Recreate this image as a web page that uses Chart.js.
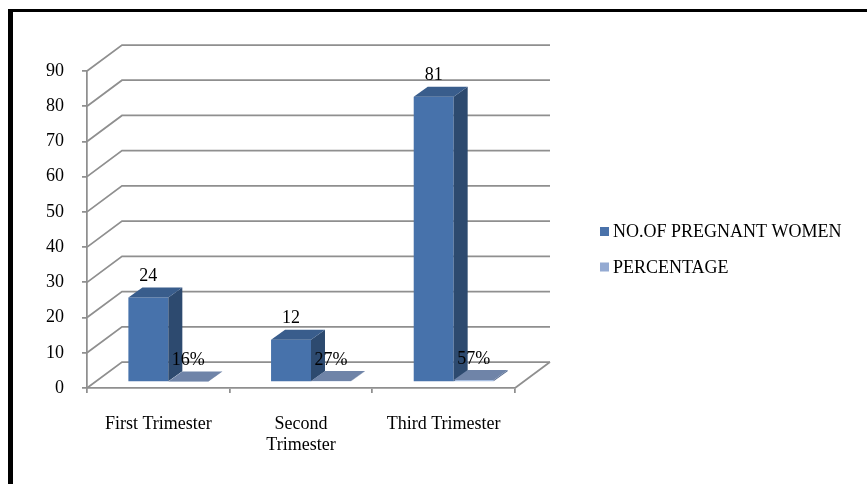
<!DOCTYPE html>
<html>
<head>
<meta charset="utf-8">
<script src="https://cdn.jsdelivr.net/npm/chart.js@4/dist/chart.umd.min.js"></script>
<style>
  html, body { margin: 0; padding: 0; background: #ffffff; }
  #wrap { width: 867px; height: 484px; position: relative; }
</style>
</head>
<body>
<div id="wrap"><canvas id="chart" width="867" height="484"></canvas></div>
<script>
// Categories (second label wraps onto two lines)
const categories = ['First Trimester', ['Second', 'Trimester'], 'Third Trimester'];
const seriesNames = ['NO.OF PREGNANT WOMEN', 'PERCENTAGE'];
const pregnantWomen = [24, 12, 81];
const percentage = [0.16, 0.27, 0.57];
const yMin = 0;
const yMax = 90;
const yStep = 10;

// Face colours for the two series: front, side, top, legend swatch
const faces = [
  { front: '#4772ab', side: '#2d4a6f', top: '#395d8c', key: '#4a72aa' },
  { front: '#a6bde0', side: '#5a6e92', top: '#6f84a8', key: '#94aad2' }
];
const gridColor = '#8f8f8f';
const fontFamily = "'Liberation Serif', 'Times New Roman', serif";

// 3D geometry: depth of the walls, offset of the bar plane and depth of the bars
const WALL = { dx: 35, dy: -26 };
const PLANE = { dx: 10, dy: -6 };
const BOX = { dx: 14, dy: -10 };

Chart.defaults.font.family = fontFamily;
Chart.defaults.font.size = 18;
Chart.defaults.color = '#000000';

const frame = {
  id: 'frame',
  beforeDraw(chart) {
    const ctx = chart.ctx;
    ctx.save();
    ctx.fillStyle = '#000000';
    ctx.fillRect(9, 9, chart.width - 9, 3);
    ctx.fillRect(8, 9, 5, chart.height - 9);
    ctx.restore();
  }
};

const walls = {
  id: 'walls',
  beforeDatasetsDraw(chart) {
    const { ctx, chartArea: a, scales: { y } } = chart;
    ctx.save();
    ctx.strokeStyle = gridColor;
    ctx.lineWidth = 1.75;
    ctx.lineCap = 'butt';
    for (let v = yMin; v <= yMax; v += yStep) {
      const py = y.getPixelForValue(v);
      ctx.beginPath();
      ctx.moveTo(a.left, py);
      ctx.lineTo(a.left + WALL.dx, py + WALL.dy);
      ctx.lineTo(a.right + WALL.dx, py + WALL.dy);
      ctx.stroke();
    }
    // right edge of the floor
    const p0 = y.getPixelForValue(yMin);
    ctx.beginPath();
    ctx.moveTo(a.right, p0);
    ctx.lineTo(a.right + WALL.dx, p0 + WALL.dy);
    ctx.stroke();
    ctx.restore();
    // front faces of the bars are drawn by Chart.js in the bar plane
    ctx.save();
    ctx.translate(PLANE.dx, PLANE.dy);
  },
  afterDatasetsDraw(chart) {
    const ctx = chart.ctx;
    ctx.restore();
    ctx.save();
    chart.data.datasets.forEach((ds, i) => {
      const meta = chart.getDatasetMeta(i);
      const f = faces[i];
      meta.data.forEach((el) => {
        const p = el.getProps(['x', 'y', 'base', 'width'], true);
        const l = p.x - p.width / 2 + PLANE.dx;
        const r = p.x + p.width / 2 + PLANE.dx;
        const t = p.y + PLANE.dy;
        const b = p.base + PLANE.dy;
        // side face
        ctx.fillStyle = f.side;
        ctx.beginPath();
        ctx.moveTo(r, t);
        ctx.lineTo(r + BOX.dx, t + BOX.dy);
        ctx.lineTo(r + BOX.dx, b + BOX.dy);
        ctx.lineTo(r, b);
        ctx.closePath();
        ctx.fill();
        // top face
        ctx.fillStyle = f.top;
        ctx.beginPath();
        ctx.moveTo(l, t);
        ctx.lineTo(r, t);
        ctx.lineTo(r + BOX.dx, t + BOX.dy);
        ctx.lineTo(l + BOX.dx, t + BOX.dy);
        ctx.closePath();
        ctx.fill();
      });
    });
    // value labels
    ctx.fillStyle = '#000000';
    ctx.font = '18px ' + fontFamily;
    ctx.textAlign = 'center';
    ctx.textBaseline = 'middle';
    chart.data.datasets.forEach((ds, i) => {
      const meta = chart.getDatasetMeta(i);
      meta.data.forEach((el, j) => {
        const p = el.getProps(['x', 'y'], true);
        const v = ds.data[j];
        const txt = i === 0 ? String(v) : Math.round(v * 100) + '%';
        ctx.fillText(txt, p.x + PLANE.dx, p.y + PLANE.dy - 21);
      });
    });
    ctx.restore();
  }
};

const sideLegend = {
  id: 'sideLegend',
  afterDraw(chart) {
    const ctx = chart.ctx;
    ctx.save();
    ctx.font = '18px ' + fontFamily;
    ctx.textAlign = 'left';
    ctx.textBaseline = 'middle';
    const rows = [231.5, 267];
    chart.data.datasets.forEach((ds, i) => {
      const cy = rows[i];
      ctx.fillStyle = faces[i].key;
      ctx.fillRect(600, cy - 4.5, 9, 9);
      ctx.fillStyle = '#000000';
      ctx.fillText(ds.label, 613, cy + 1);
    });
    ctx.restore();
  }
};

new Chart(document.getElementById('chart'), {
  type: 'bar',
  data: {
    labels: categories,
    datasets: [
      { label: seriesNames[0], data: pregnantWomen, backgroundColor: faces[0].front },
      { label: seriesNames[1], data: percentage, backgroundColor: faces[1].front }
    ]
  },
  options: {
    responsive: false,
    animation: false,
    events: [],
    layout: { padding: { top: 71, left: 0, right: 352, bottom: 0 } },
    datasets: {
      bar: { barPercentage: 1, categoryPercentage: 0.56, borderWidth: 0, inflateAmount: 0 }
    },
    plugins: {
      legend: { display: false },
      tooltip: { enabled: false },
      title: { display: false }
    },
    scales: {
      x: {
        grid: { display: true, drawOnChartArea: false, drawTicks: true, tickLength: 5, color: gridColor, lineWidth: 1.75, offset: true },
        border: { display: true, color: gridColor, width: 1.75 },
        ticks: { padding: 20, maxRotation: 0, autoSkip: false, font: { size: 18, lineHeight: 1.2 } },
        afterFit(s) { s.height = 96; }
      },
      y: {
        min: yMin,
        max: yMax,
        grid: { display: true, drawOnChartArea: false, drawTicks: true, tickLength: 5, color: gridColor, lineWidth: 1.75 },
        border: { display: true, color: gridColor, width: 1.75 },
        ticks: { stepSize: yStep, padding: 18, font: { size: 18 } },
        afterFit(s) { s.width = 87; }
      }
    }
  },
  plugins: [frame, walls, sideLegend]
});
</script>
</body>
</html>
